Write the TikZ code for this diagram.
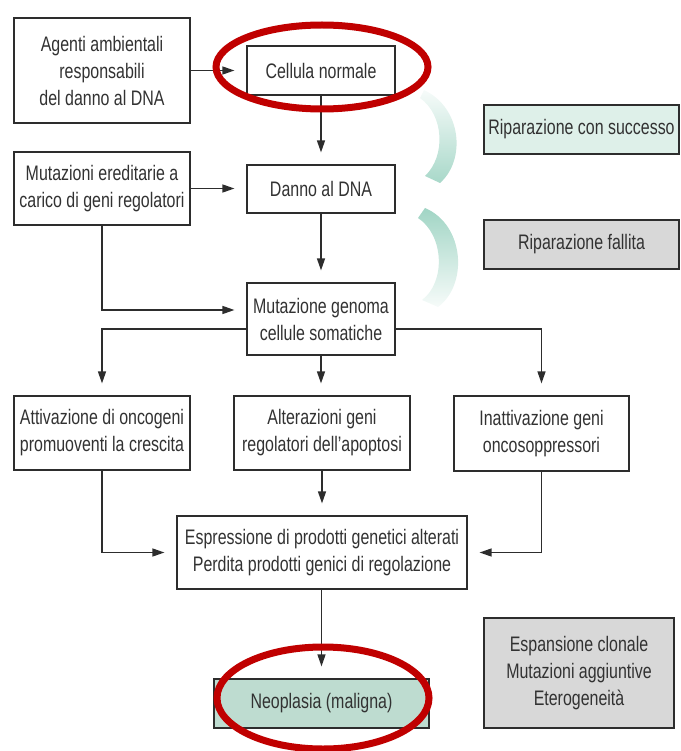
\documentclass[tikz,border=0pt]{standalone}
\usepackage{fontspec}
\setmainfont{Liberation Sans}[FakeStretch=0.76]
\usepackage{tikz}
\usetikzlibrary{arrows.meta,positioning}
\definecolor{txtgray}{RGB}{50,50,50}
\definecolor{linegray}{RGB}{45,45,45}
\definecolor{neofill}{RGB}{190,220,208}
\definecolor{okfill}{RGB}{222,240,233}
\definecolor{failfill}{RGB}{216,216,216}
\definecolor{crescent}{RGB}{110,190,165}
\definecolor{ringred}{RGB}{192,0,0}

\begin{document}
\begin{tikzpicture}[x=1pt, y=-1pt,
  font=\fontsize{21pt}{27pt}\selectfont, text=txtgray,
  box/.style={draw=linegray, line width=1.2pt, fill=white, inner sep=0pt, align=center},
  side/.style={box, minimum width=176pt}, mid/.style={box, minimum width=148pt},
  ok/.style={box, fill=okfill, minimum width=195pt, minimum height=49pt},
  fail/.style={box, fill=failfill}, neo/.style={box, fill=neofill},
  arr/.style={linegray, line width=1.4pt, -{Triangle[length=12pt,width=8pt]}, shorten >=12pt},
  ring/.style={draw=ringred, line width=7pt}]
  \useasboundingbox (0,0) rectangle (680,751);
  \node[side, minimum height=105pt] (agenti) at (102,70.5) {Agenti ambientali\\responsabili\\del danno al DNA};
  \node[mid, minimum height=49pt] (cellula) at (321,70.5) {Cellula normale};
  \node[side, minimum height=73pt] (ered) at (102,188.5) {Mutazioni ereditarie a\\carico di geni regolatori};
  \node[mid, minimum height=48pt] (danno) at (321,189) {Danno al DNA};
  \node[mid, minimum height=72pt] (genoma) at (321,319) {Mutazione genoma\\cellule somatiche};
  \node[side, minimum height=74pt] (onco) at (102,433) {Attivazione di oncogeni\\promuoventi la crescita};
  \node[side, minimum height=74pt] (apopt) at (322,433) {Alterazioni geni\\regolatori dell'apoptosi};
  \node[side, minimum width=175pt, minimum height=75pt] (soppr) at (541.5,433.5) {Inattivazione geni\\oncosoppressori};
  \node[box, minimum width=290pt, minimum height=73pt] (espr) at (322,552.5) {Espressione di prodotti genetici alterati\\Perdita prodotti genici di regolazione};
  \node[neo, minimum width=215pt, minimum height=49pt] (neoplasia) at (321.5,703.5) {Neoplasia (maligna)};
  \node[fail, minimum width=190pt, minimum height=110pt] (espans) at (579,673) {Espansione clonale\\Mutazioni aggiuntive\\Eterogeneità};
  \node[ok] (ripok) at (581.5,129.5) {Riparazione con successo};
  \node[ok, fill=failfill] (ripko) at (581.5,244.5) {Riparazione fallita};
  \shade[top color=crescent!6, bottom color=crescent!60] (424,90) .. controls (462,108) and (466,160) .. (440,183) -- (425,176) .. controls (446,156) and (444,115) .. (420,98) -- cycle;
  \shade[top color=crescent!65, bottom color=crescent!6] (425,208) .. controls (465,225) and (468,285) .. (438,307) -- (422,300) .. controls (446,282) and (444,235) .. (418,218) -- cycle;
  \draw[arr] (agenti) -- (cellula); \draw[arr] (cellula) -- (danno);
  \draw[arr] (ered.east) -- (ered.east -| danno.west); \draw[arr] (danno) -- (genoma);
  \draw[arr] (ered.south) |- ([yshift=9pt]genoma.west);
  \draw[arr] ([yshift=-10pt]genoma.west) -| (onco.north);
  \draw[arr] ([yshift=-10pt]genoma.east) -| (soppr.north);
  \draw[arr] (genoma.south) -- (genoma.south |- apopt.north);
  \draw[arr] (onco.south) |- (espr.west); \draw[arr] (apopt) -- (espr);
  \draw[arr] (soppr.south) |- (espr.east);
  \draw[arr] (espr.south -| neoplasia.north) -- (neoplasia.north);
  \draw[ring] (322,67) ellipse [x radius=106pt, y radius=42pt];
  \draw[ring] (323,698) ellipse [x radius=106pt, y radius=51pt];
\end{tikzpicture}
\end{document}
